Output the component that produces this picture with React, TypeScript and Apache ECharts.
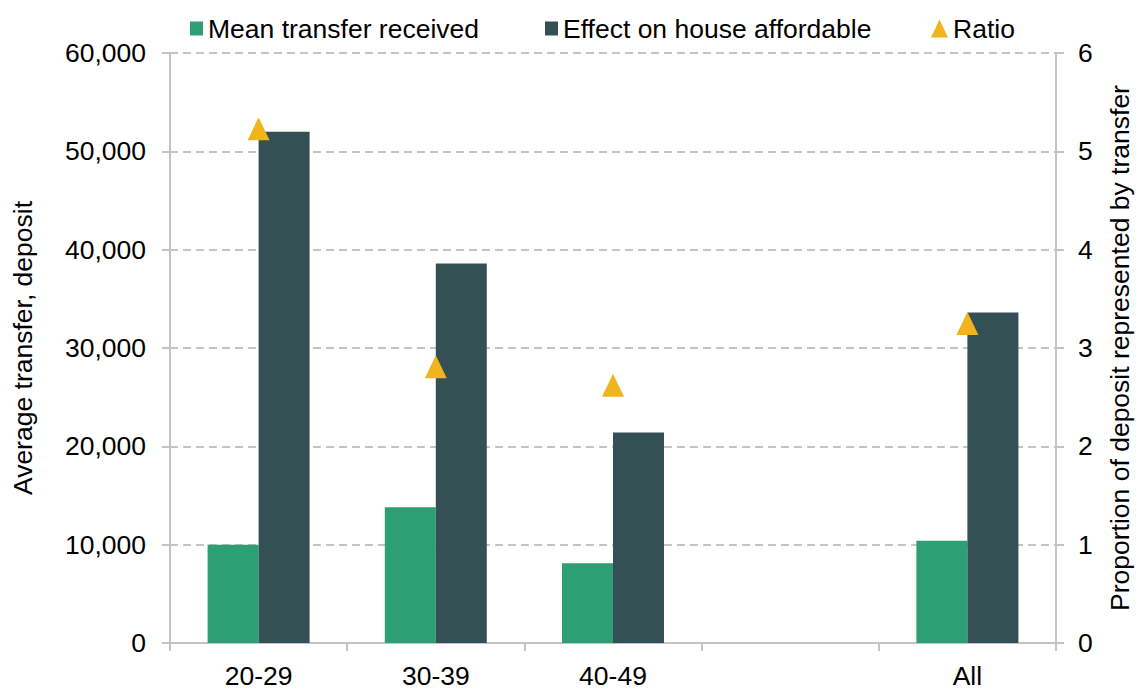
import React, { useEffect, useRef } from "react";
import * as echarts from "echarts";

const categories = ["20-29", "30-39", "40-49", "", "All"];
const meanTransfer = [10000, 13800, 8100, null, 10400];
const effectOnHouse = [52000, 38600, 21400, null, 33600];
const ratio = [5.23, 2.81, 2.62, null, 3.25];
const leftTicks = { min: 0, max: 60000, interval: 10000 };
const rightTicks = { min: 0, max: 6, interval: 1 };

const GREEN = "#2e9e74";
const DARK = "#345054";
const YELLOW = "#f0b41c";
const GRID = "#c4c4c4";
const FONT = "Liberation Sans, Arial, sans-serif";
const FS = 26.5;

export default function App() {
  const ref = useRef<HTMLDivElement>(null);
  useEffect(() => {
    if (!ref.current) return;
    const chart = echarts.init(ref.current, null, { renderer: "svg" });
    const legendText = { fontSize: FS, color: "#000", fontFamily: FONT };
    chart.setOption({
      animation: false,
      textStyle: { fontFamily: FONT },
      grid: { left: 170, right: 77, top: 53, bottom: 44, containLabel: false },
      legend: [
        { data: [{ name: "Mean transfer received", icon: "rect" }], left: 190, top: 15, itemWidth: 13, itemHeight: 14, itemGap: 0, textStyle: legendText, padding: 0 },
        { data: [{ name: "Effect on house affordable", icon: "rect" }], left: 545, top: 15, itemWidth: 13, itemHeight: 14, textStyle: legendText, padding: 0 },
        { data: [{ name: "Ratio", icon: "triangle" }], left: 931, top: 15, itemWidth: 17, itemHeight: 18, textStyle: legendText, padding: 0 },
      ],
      xAxis: {
        type: "category",
        data: categories,
        axisLine: { lineStyle: { color: GRID, width: 2 } },
        axisTick: { show: true, length: 8, lineStyle: { color: GRID, width: 2 } },
        axisLabel: { fontSize: FS, color: "#000", margin: 19, fontFamily: FONT },
      },
      yAxis: [
        {
          type: "value",
          ...leftTicks,
          name: "Average transfer, deposit",
          nameLocation: "middle",
          nameGap: 134,
          nameTextStyle: { fontSize: FS, color: "#000", fontFamily: FONT },
          axisLine: { show: true, lineStyle: { color: GRID, width: 2 } },
          axisTick: { show: true, length: 8, lineStyle: { color: GRID, width: 2 } },
          axisLabel: {
            fontSize: FS,
            color: "#000",
            margin: 24,
            fontFamily: FONT,
            formatter: (v: number) => v.toLocaleString("en-US"),
          },
          splitLine: { show: true, lineStyle: { color: GRID, type: [8, 5], width: 2 } },
        },
        {
          type: "value",
          ...rightTicks,
          position: "right",
          name: "Proportion of deposit represented by transfer",
          nameLocation: "middle",
          nameGap: 50,
          nameRotate: 90,
          nameTextStyle: { fontSize: FS, color: "#000", fontFamily: FONT },
          axisLine: { show: true, lineStyle: { color: GRID, width: 2 } },
          axisTick: { show: true, length: 8, lineStyle: { color: GRID, width: 2 } },
          axisLabel: { fontSize: FS, color: "#000", margin: 22, fontFamily: FONT },
          splitLine: { show: false },
        },
      ],
      series: [
        {
          name: "Mean transfer received",
          type: "bar",
          data: meanTransfer,
          barWidth: 51,
          barGap: "0%",
          itemStyle: { color: GREEN },
        },
        {
          name: "Effect on house affordable",
          type: "bar",
          data: effectOnHouse,
          barWidth: 51,
          barGap: "0%",
          itemStyle: { color: DARK },
        },
        {
          name: "Ratio",
          type: "scatter",
          yAxisIndex: 1,
          data: ratio.map((v) => (v === null ? "-" : v)),
          symbol: "triangle",
          symbolSize: [22, 23],
          itemStyle: { color: YELLOW, opacity: 1 },
          z: 5,
        },
      ],
    });
    return () => chart.dispose();
  }, []);
  return <div ref={ref} style={{ width: 1141, height: 689, position: "absolute", left: 0, top: 0 }} />;
}
